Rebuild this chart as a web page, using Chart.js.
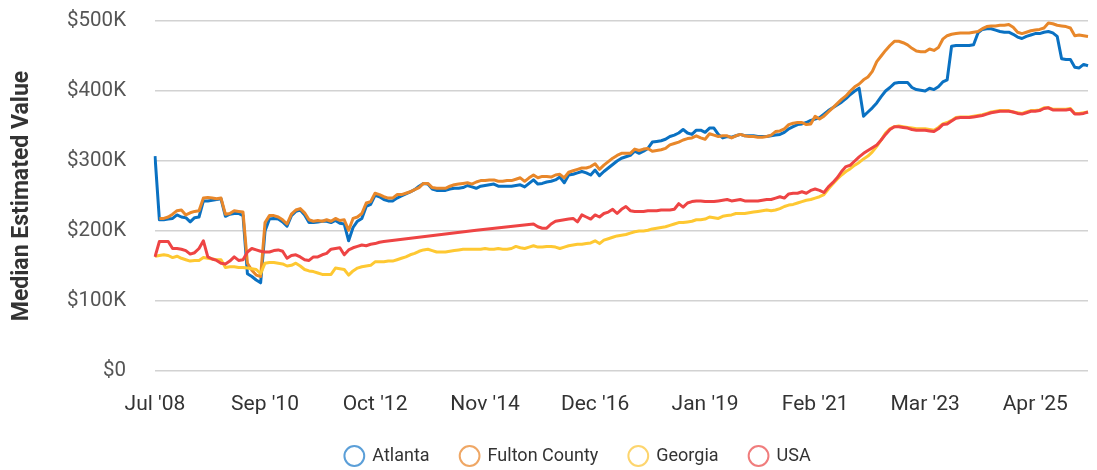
<!DOCTYPE html>
<html>
<head>
<meta charset="utf-8">
<title>Median Estimated Value</title>
<script src="https://cdn.jsdelivr.net/npm/chart.js@4.4.1/dist/chart.umd.min.js"></script>
<style>
  html, body { margin: 0; padding: 0; background: #fff; }
</style>
</head>
<body>
<canvas id="valueChart" width="1097" height="470"></canvas>
<script>
// values in $K, one per month (a few months missing for USA)
var atlanta = [
  307, 216, 216, 217, 218, 223, 220, 219, 213, 219,
  220, 243, 243, 244, 245, 246, 221, 224, 225, 225,
  222, 139, 135, 130, 126, 200, 217, 218, 217, 213,
  207, 222, 228, 230, 223, 212, 212, 213, 214, 214,
  212, 215, 211, 210, 186, 205, 214, 218, 235, 238,
  251, 249, 245, 243, 243, 247, 250, 253, 256, 259,
  264, 268, 267, 260, 258, 258, 258, 260, 261, 261,
  262, 265, 263, 261, 264, 265, 266, 267, 264, 264,
  264, 264, 265, 266, 263, 268, 273, 267, 268, 270,
  271, 273, 277, 269, 280, 281, 283, 285, 283, 280,
  287, 279, 285, 290, 295, 300, 304, 306, 308, 314,
  311, 314, 318, 327, 328, 329, 331, 335, 337, 340,
  345, 340, 338, 344, 344, 341, 347, 347, 338, 333,
  335, 334, 336, 338, 336, 336, 336, 335, 335, 335,
  336, 337, 338, 341, 346, 349, 352, 353, 355, 358,
  360, 362, 367, 372, 376, 380, 384, 389, 395, 400,
  404, 364, 370, 376, 383, 392, 400, 405, 411, 412,
  412, 412, 405, 402, 401, 400, 404, 402, 406, 413,
  416, 464, 465, 465, 465, 465, 466, 483, 488, 489,
  489, 487, 485, 484, 484, 481, 477, 475, 478, 480,
  482, 482, 484, 485, 483, 478, 446, 445, 445, 434,
  433, 438, 436
];

var fulton = [
  null, 218, 218, 220, 224, 229, 230, 223, 226, 228,
  229, 247, 248, 247, 246, 247, 224, 225, 229, 228,
  227, 154, 144, 137, 135, 212, 222, 222, 220, 216,
  210, 224, 230, 232, 226, 216, 214, 215, 214, 216,
  214, 218, 215, 216, 201, 218, 220, 225, 240, 242,
  254, 252, 249, 247, 247, 252, 252, 254, 256, 259,
  262, 268, 268, 262, 261, 261, 261, 264, 266, 267,
  268, 269, 267, 270, 272, 272, 273, 273, 271, 271,
  272, 272, 274, 276, 271, 276, 280, 276, 278, 278,
  277, 280, 281, 276, 284, 286, 288, 290, 290, 292,
  296, 288, 294, 299, 304, 308, 311, 311, 311, 317,
  315, 317, 318, 314, 315, 316, 318, 323, 325, 327,
  330, 332, 333, 336, 333, 331, 339, 337, 335, 336,
  336, 333, 336, 338, 336, 335, 335, 334, 334, 335,
  337, 342, 343, 346, 352, 354, 355, 355, 352, 353,
  364, 360, 364, 370, 376, 382, 388, 393, 400, 406,
  410, 416, 420, 428, 442, 450, 458, 465, 471, 471,
  469, 466, 461, 457, 456, 456, 460, 458, 462, 474,
  479, 481, 482, 483, 483, 483, 484, 485, 489, 492,
  493, 493, 494, 494, 495, 491, 484, 482, 484, 486,
  487, 488, 490, 497, 496, 494, 493, 492, 490, 479,
  480, 479, 478
];

var georgia = [
  164, 165, 166, 165, 162, 164, 161, 159, 157, 158,
  158, 162, 161, 160, 159, 159, 148, 149, 149, 148,
  148, 147, 146, 145, 139, 154, 155, 155, 154, 153,
  150, 151, 154, 150, 145, 143, 142, 140, 138, 138,
  138, 147, 146, 145, 137, 143, 147, 149, 150, 151,
  156, 156, 156, 157, 157, 159, 161, 163, 166, 168,
  171, 173, 174, 172, 170, 170, 170, 171, 172, 173,
  174, 174, 174, 174, 174, 175, 174, 174, 175, 174,
  174, 175, 178, 176, 175, 177, 179, 177, 177, 178,
  178, 177, 175, 177, 179, 180, 181, 181, 182, 183,
  186, 182, 187, 189, 191, 193, 194, 195, 197, 199,
  200, 200, 201, 203, 204, 205, 206, 208, 210, 212,
  212, 213, 214, 216, 216, 217, 220, 219, 218, 221,
  222, 223, 225, 225, 225, 226, 227, 228, 229, 230,
  229, 230, 232, 235, 237, 238, 240, 242, 244, 245,
  247, 249, 252, 260, 267, 274, 280, 285, 289, 294,
  298, 303, 307, 313, 321, 330, 340, 346, 349, 350,
  349, 348, 347, 346, 346, 346, 345, 344, 348, 353,
  355, 358, 362, 363, 363, 363, 364, 365, 366, 368,
  370, 371, 372, 372, 372, 370, 369, 368, 370, 372,
  372, 373, 376, 376, 374, 374, 374, 374, 375, 368,
  368, 369, 370
];

var usa = [
  163, 185, 185, 185, 175, 175, 174, 172, 167, 169,
  175, 186, 163, 160, 158, 154, 153, 157, 163, 158,
  159, 170, 175, 173, 171, 170, 170, 172, 173, 171,
  161, 165, 166, 163, 159, 158, 163, 163, 166, 168,
  174, 175, 176, 166, 173, 176, 178, 180, 179, 181,
  182, 184, 185, null, null, null, null, null, null, null,
  null, null, null, null, null, null, null, null, null, null,
  null, null, null, 201, null, null, null, null, null, null,
  null, null, null, null, null, null, 210, 206, 204, 204,
  210, 214, 215, 216, 217, 218, 213, 223, 220, 217,
  223, 220, 225, 227, 231, 225, 231, 235, 229, 228,
  228, 228, 229, 229, 229, 230, 230, 230, 231, 239,
  234, 240, 242, 243, 243, 242, 242, 242, 243, 244,
  245, 243, 244, 245, 243, 243, 243, 243, 244, 245,
  245, 247, 249, 247, 253, 254, 254, 256, 254, 258,
  260, 258, 255, 263, 269, 276, 285, 292, 294, 300,
  306, 311, 315, 319, 323, 330, 338, 345, 349, 349,
  348, 347, 345, 344, 344, 344, 343, 342, 346, 352,
  353, 357, 361, 362, 362, 362, 363, 364, 365, 367,
  369, 370, 371, 371, 371, 370, 368, 367, 369, 371,
  371, 372, 375, 376, 373, 373, 373, 373, 374, 367,
  367, 368, 370
];

var tickLabels = ["Jul '08", "Sep '10", "Oct '12", "Nov '14", "Dec '16", "Jan '19", "Feb '21", "Mar '23", "Apr '25"];
var tickEvery = 25;
var yTicks = [0, 100, 200, 300, 400, 500];

// month categories from Jul 2008 (one month skipped in 2009)
var monthNames = ["Jan", "Feb", "Mar", "Apr", "May", "Jun", "Jul", "Aug", "Sep", "Oct", "Nov", "Dec"];
var categories = [];
var m = 6, y = 2008;
for (var i = 0; i < atlanta.length; i++) {
    if (i === 13) m++;
    var mm = m % 12, yy = y + Math.floor(m / 12);
    categories.push(monthNames[mm] + " '" + String(yy).slice(2));
    m++;
}

var colors = ['#0a71c2', '#e8872a', '#fec832', '#ee4444'];
var legendColors = ['#5b9fd8', '#efa765', '#fdd56e', '#f07d7d'];

Chart.defaults.font.family = 'Roboto';

// nudge the legend row to the right like the original
var legendShift = {
    id: 'legendShift',
    beforeDraw: function (chart) {
        chart.legend.left += 34;
        chart.legend.right += 34;
    }
};

var ctx = document.getElementById('valueChart').getContext('2d');
new Chart(ctx, {
    type: 'line',
    data: {
        labels: categories,
        datasets: [
            {label: 'Atlanta', data: atlanta, borderColor: colors[0], backgroundColor: colors[0], order: 3},
            {label: 'Fulton County', data: fulton, borderColor: colors[1], backgroundColor: colors[1], order: 2},
            {label: 'Georgia', data: georgia, borderColor: colors[2], backgroundColor: colors[2], order: 1},
            {label: 'USA', data: usa, borderColor: colors[3], backgroundColor: colors[3], order: 0}
        ]
    },
    options: {
        responsive: false,
        animation: false,
        devicePixelRatio: 1,
        spanGaps: true,
        layout: {padding: {top: 21, right: 9, bottom: -5, left: 0}},
        elements: {
            point: {radius: 0, hoverRadius: 0},
            line: {borderWidth: 3, tension: 0, borderJoinStyle: 'round', fill: false}
        },
        scales: {
            x: {
                grid: {display: false},
                border: {display: false},
                ticks: {
                    autoSkip: false,
                    maxRotation: 0,
                    padding: 13,
                    color: '#333',
                    font: {size: 21},
                    callback: function (value, index) {
                        return index % tickEvery === 0 ? tickLabels[index / tickEvery] : null;
                    }
                },
                afterFit: function (scale) { scale.height = 45; }
            },
            y: {
                min: 0,
                max: 500,
                afterBuildTicks: function (scale) {
                    scale.ticks = yTicks.map(function (v) { return {value: v}; });
                },
                grid: {color: '#d2d2d2', lineWidth: 1.5, drawTicks: false},
                border: {display: false},
                ticks: {
                    padding: 29,
                    color: '#555',
                    font: {size: 20.5},
                    callback: function (v) { return v === 0 ? '$0' : '$' + v + 'K'; }
                },
                title: {
                    display: true,
                    text: 'Median Estimated Value',
                    color: '#333',
                    font: {size: 23, weight: 'bold'},
                    padding: {top: 8, bottom: 0}
                },
                afterFit: function (scale) {
                    scale.width = 155;
                    scale.paddingTop = 0;
                    scale.paddingBottom = 0;
                }
            }
        },
        plugins: {
            tooltip: {enabled: false},
            legend: {
                position: 'bottom',
                reverse: true,
                labels: {
                    usePointStyle: true,
                    pointStyle: 'circle',
                    boxWidth: 18,
                    boxHeight: 14,
                    padding: 31,
                    color: '#333',
                    font: {size: 18},
                    generateLabels: function (chart) {
                        var items = Chart.defaults.plugins.legend.labels.generateLabels(chart);
                        items.forEach(function (item) {
                            item.fillStyle = 'rgba(255,255,255,0)';
                            item.strokeStyle = legendColors[item.datasetIndex];
                            item.lineWidth = 2;
                        });
                        return items;
                    }
                }
            }
        }
    },
    plugins: [legendShift]
});
</script>
</body>
</html>
